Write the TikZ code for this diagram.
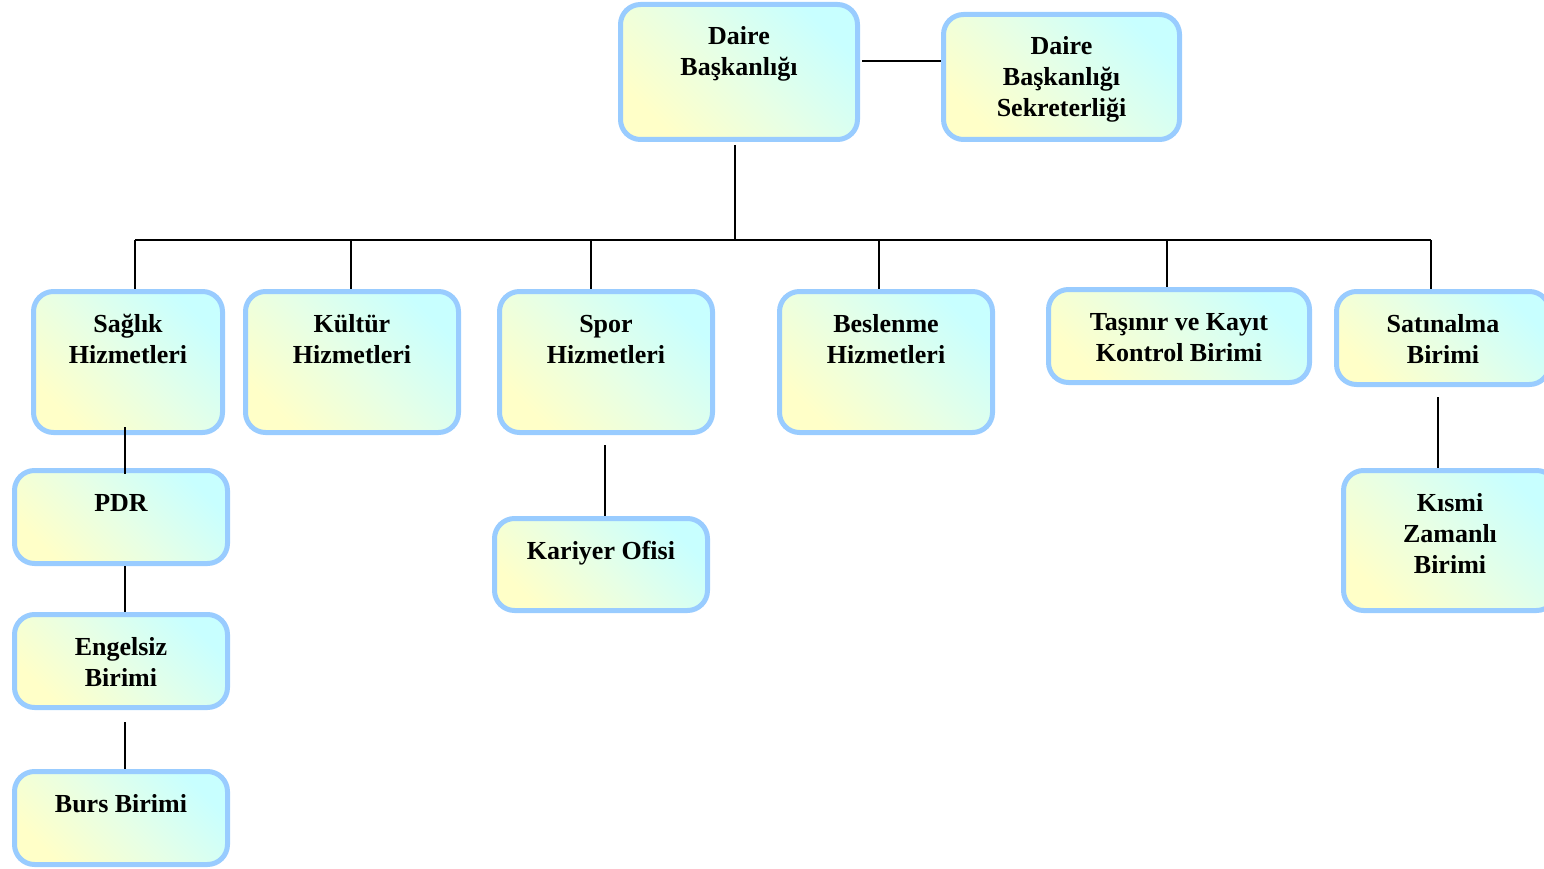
\documentclass[tikz,border=0pt]{standalone}
\usepackage{fontspec}
\setmainfont{Liberation Serif}
\usetikzlibrary{backgrounds}
\definecolor{bordc}{HTML}{99CCFF}
\definecolor{topc}{HTML}{C8FFFF}
\definecolor{midc}{HTML}{E6FFE6}
\definecolor{botc}{HTML}{FFFFC8}
\tikzset{
  bx/.style={draw=bordc, line width=5pt, rounded corners=20pt, outer sep=0pt, inner sep=0pt,
    top color=topc, bottom color=botc, middle color=midc, shading angle=-45},
  lbl/.style={anchor=base, inner sep=0pt, font=\bfseries\fontsize{26}{31}\selectfont},
  conn/.style={line width=1.8pt, black}
}
\newcommand\obox[6]{%
  \node[bx, minimum width={#4-#2-5}, minimum height={#5-#3-5}] (#1) at ({(#2+#4)/2},{(#3+#5)/2}) {};
  \node[lbl] (#1-t) at ([yshift=-40.5pt]#1.north) {\parbox[t]{300pt}{\centering #6}};
}
\begin{document}
\begin{tikzpicture}[x=1pt,y=-1pt]
\useasboundingbox (0,0) rectangle (1544,869);
\clip (0,0) rectangle (1544,869);
\obox{daire}{618}{2}{860}{142}{Daire\\Başkanlığı}
\obox{sek}{941}{12}{1182}{142}{Daire\\Başkanlığı\\Sekreterliği}
\obox{saglik}{31}{289}{225}{435}{Sağlık\\Hizmetleri}
\obox{kultur}{243}{289}{461}{435}{Kültür\\Hizmetleri}
\obox{spor}{497}{289}{715}{435}{Spor\\Hizmetleri}
\obox{beslenme}{777}{289}{995}{435}{Beslenme\\Hizmetleri}
\obox{tasinir}{1046}{287}{1312}{385}{Taşınır ve Kayıt\\Kontrol Birimi}
\obox{satin}{1334}{289}{1552}{387}{Satınalma\\Birimi}
\obox{pdr}{12}{468}{230}{566}{PDR}
\obox{engel}{12}{612}{230}{710}{Engelsiz\\Birimi}
\obox{burs}{12}{769}{230}{867}{Burs Birimi}
\obox{kariyer}{492}{516}{710}{613}{Kariyer Ofisi}
\obox{kismi}{1341}{468}{1559}{613}{Kısmi\\Zamanlı\\Birimi}

\coordinate (b0) at (735,240);
\coordinate (b1) at (135,240);
\coordinate (b2) at (351,240);
\coordinate (b3) at (591,240);
\coordinate (b4) at (879,240);
\coordinate (b5) at (1167,240);
\coordinate (b6) at (1431,240);

\begin{scope}[on background layer]
\draw[conn] (b1) -- (b1 |- saglik.north);
\draw[conn] (b2) -- (b2 |- kultur.north);
\draw[conn] (b3) -- (b3 |- spor.north);
\draw[conn] (b4) -- (b4 |- beslenme.north);
\draw[conn] (b5) -- (b5 |- tasinir.north);
\draw[conn] (b6) -- (b6 |- satin.north);
\end{scope}

\draw[conn] ([shift={(4.5,-11)}]daire.east) -- ([shift={(-2.5,-16)}]sek.west);
\draw[conn] ([shift={(-4,5.5)}]daire.south) -- (b0);
\draw[conn] (b1) -- (b6);
\draw[conn] ([shift={(-3,-5.5)}]saglik.south) -- ([shift={(4,3.5)}]pdr.north);
\draw[conn] ([shift={(4,2.5)}]pdr.south) -- ([shift={(4,-2.5)}]engel.north);
\draw[conn] ([shift={(4,14.5)}]engel.south) -- ([shift={(4,-2.5)}]burs.north);
\draw[conn] ([shift={(-1,12.5)}]spor.south) -- ([shift={(4,-2.5)}]kariyer.north);
\draw[conn] ([shift={(-5,12.5)}]satin.south) -- ([shift={(-12,-2.5)}]kismi.north);
\end{tikzpicture}
\end{document}
